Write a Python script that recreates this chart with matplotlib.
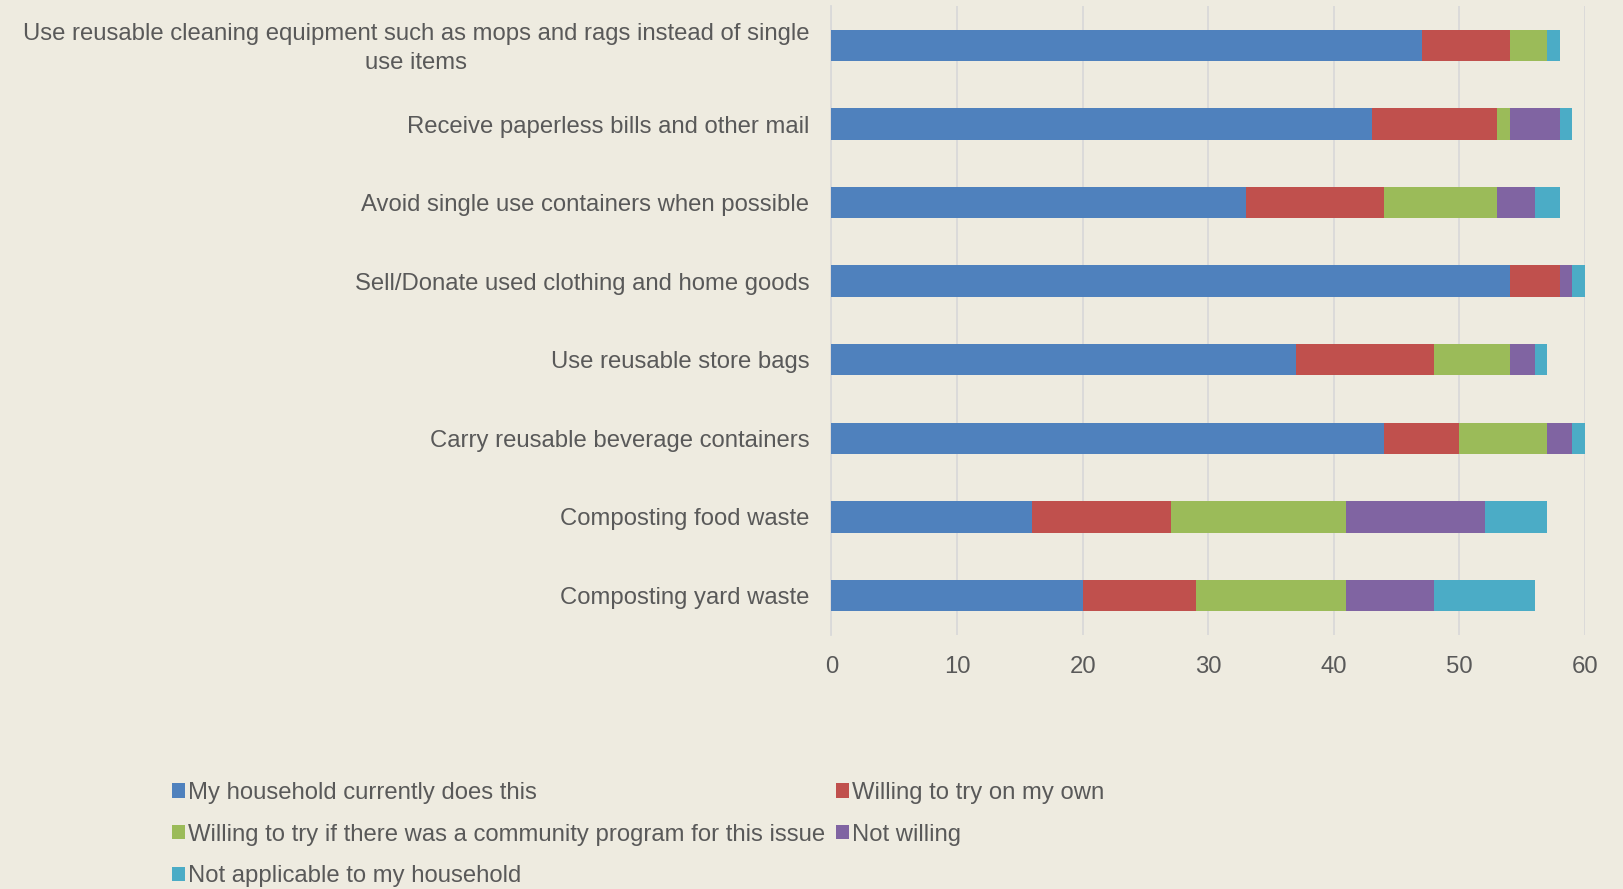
import numpy as np
import matplotlib
matplotlib.use("Agg")
import matplotlib.pyplot as plt
import matplotlib.transforms as mtransforms

plt.rcParams["font.family"] = ["Liberation Sans", "DejaVu Sans"]

categories = [
    "Use reusable cleaning equipment such as mops and rags instead of single\nuse items",
    "Receive paperless bills and other mail",
    "Avoid single use containers when possible",
    "Sell/Donate used clothing and home goods",
    "Use reusable store bags",
    "Carry reusable beverage containers",
    "Composting food waste",
    "Composting yard waste",
]
series_names = [
    "My household currently does this",
    "Willing to try on my own",
    "Willing to try if there was a community program for this issue",
    "Not willing",
    "Not applicable to my household",
]
currently_does = [47, 43, 33, 54, 37, 44, 16, 20]
willing_own = [7, 10, 11, 4, 11, 6, 11, 9]
willing_program = [3, 1, 9, 0, 6, 7, 14, 12]
not_willing = [0, 4, 3, 1, 2, 2, 11, 7]
not_applicable = [1, 1, 2, 1, 1, 1, 5, 8]
x_ticks = [0, 10, 20, 30, 40, 50, 60]

colors = ["#4F81BD", "#C0504D", "#9BBB59", "#8064A2", "#4BACC6"]
bg = "#EEEBE0"
txt = "#595959"
fs = 17.2

fig = plt.figure(figsize=(16.24, 8.89), dpi=100, facecolor=bg)
ax = fig.add_axes([0.512, 0.286, 0.464, 0.707], facecolor=bg)

y = np.arange(len(categories))
left = np.zeros(len(categories))
handles = []
for name, vals, c in zip(series_names,
                         [currently_does, willing_own, willing_program, not_willing, not_applicable],
                         colors):
    vals = np.array(vals, dtype=float)
    h = ax.barh(y, vals, left=left, height=0.4, color=c, label=name, zorder=3)
    handles.append(h)
    left += vals

ax.set_ylim(len(categories) - 0.5, -0.5)
ax.set_xlim(0, 60)
ax.set_xticks(x_ticks)
ax.set_yticks(y)
ax.set_yticklabels(categories, ha="right", multialignment="center", linespacing=1.4)
ax.tick_params(axis="y", length=0, pad=16, labelsize=fs, labelcolor=txt)
ax.tick_params(axis="x", length=0, pad=15, labelsize=fs, labelcolor=txt)
ax.grid(axis="x", color="#D9D9D9", linewidth=1.3, zorder=0)
for s in ["top", "right", "bottom"]:
    ax.spines[s].set_visible(False)
ax.spines["left"].set_color("#D9D9D9")
ax.spines["left"].set_linewidth(1.3)

# nudge the two-line label up a little so it centres on its bar
first = ax.get_yticklabels()[0]
first.set_transform(first.get_transform() +
                    mtransforms.ScaledTranslation(0, 3 / 100, fig.dpi_scale_trans))

# legend fills column-wise, so reorder to get the row layout of the original
order = [0, 2, 4, 1, 3]
leg = fig.legend([handles[i] for i in order], [series_names[i] for i in order],
                 loc="upper left", bbox_to_anchor=(0.1, 0.131), ncol=2,
                 frameon=False, fontsize=fs, handlelength=0.55, handleheight=0.55,
                 handletextpad=0.12, columnspacing=0.45, labelspacing=0.82,
                 borderaxespad=0)
for t in leg.get_texts():
    t.set_color(txt)

fig.savefig("out.png", dpi=100, facecolor=bg)
